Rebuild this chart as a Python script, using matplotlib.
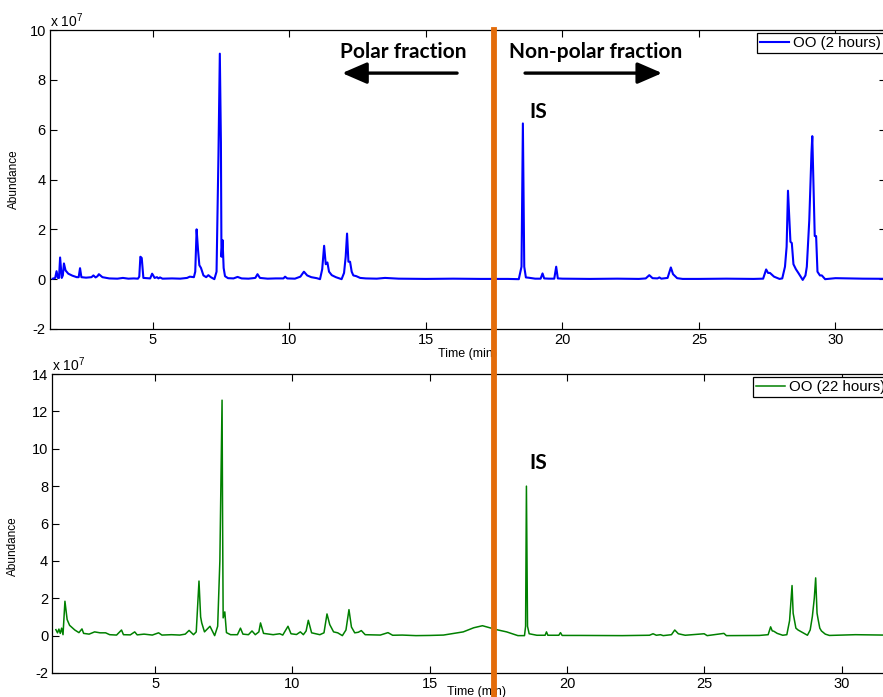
import matplotlib
matplotlib.use("Agg")
import matplotlib.pyplot as plt
import matplotlib.transforms as mtransforms
from matplotlib.lines import Line2D

plt.rcParams['font.family'] = ['Liberation Sans', 'DejaVu Sans']
plt.rcParams['mathtext.fontset'] = 'custom'
plt.rcParams['mathtext.rm'] = 'Liberation Sans'
plt.rcParams['axes.unicode_minus'] = False

# chromatogram, 2 hours (abundance in units of 1e7)
time_2h = [1.33, 1.42, 1.47, 1.52, 1.56, 1.60, 1.66, 1.70, 1.74, 1.80, 1.90, 2.05,
           2.21, 2.28, 2.33, 2.38, 2.55, 2.75, 2.82, 2.90, 2.97, 3.02, 3.15, 3.4,
           3.7, 3.9, 4.1, 4.3, 4.45, 4.50, 4.54, 4.59, 4.65, 4.90, 4.97, 5.01,
           5.06, 5.15, 5.20, 5.26, 5.35, 5.7, 6.0, 6.25, 6.35, 6.50, 6.55, 6.60,
           6.65, 6.70, 6.76, 6.85, 6.95, 7.03, 7.12, 7.25, 7.33, 7.40, 7.45, 7.49,
           7.51, 7.55, 7.59, 7.64, 7.75, 7.95, 8.10, 8.25, 8.5, 8.75, 8.83, 8.92,
           9.2, 9.5, 9.78, 9.84, 9.92, 10.2, 10.40, 10.53, 10.65, 10.80, 11.00, 11.12,
           11.20, 11.27, 11.33, 11.39, 11.45, 11.55, 11.70, 11.91, 12.00, 12.06, 12.11, 12.16,
           12.22, 12.28, 12.34, 12.45, 12.59, 12.8, 13.2, 13.5, 14.0, 15.0, 16.0, 17.0,
           18.0, 18.40, 18.50, 18.55, 18.60, 18.66, 18.75, 19.0, 19.20, 19.27, 19.33, 19.5,
           19.70, 19.77, 19.83, 20.0, 21.0, 22.0, 22.8, 23.05, 23.18, 23.30, 23.48, 23.55,
           23.62, 23.85, 23.97, 24.05, 24.2, 24.4, 25.0, 26.0, 27.0, 27.35, 27.46, 27.53,
           27.60, 27.75, 27.95, 28.05, 28.15, 28.21, 28.26, 28.31, 28.35, 28.40, 28.46, 28.55,
           28.64, 28.80, 28.90, 28.95, 29.04, 29.12, 29.15, 29.21, 29.24, 29.29, 29.34, 29.43,
           29.50, 29.62, 30.0, 31.0, 32.5]
abund_2h = [0.02, 0.05, 0.32, 0.05, 0.05, 0.87, 0.05, 0.15, 0.63, 0.35, 0.22, 0.14,
            0.08, 0.08, 0.44, 0.08, 0.06, 0.08, 0.15, 0.07, 0.12, 0.20, 0.08, 0.03,
            0.02, 0.05, 0.02, 0.03, 0.02, 0.10, 0.90, 0.85, 0.05, 0.03, 0.22, 0.15,
            0.05, 0.08, 0.03, 0.07, 0.02, 0.03, 0.02, 0.05, 0.10, 0.08, 0.30, 2.00,
            1.20, 0.56, 0.45, 0.15, 0.08, 0.16, 0.08, 0.00, 0.30, 5.00, 9.05, 5.50,
            0.90, 1.57, 0.45, 0.12, 0.04, 0.03, 0.09, 0.03, 0.02, 0.05, 0.20, 0.05,
            0.02, 0.03, 0.03, 0.10, 0.03, 0.02, 0.10, 0.30, 0.15, 0.08, 0.04, 0.00,
            0.40, 1.34, 0.60, 0.67, 0.30, 0.16, 0.08, 0.00, 0.25, 0.90, 1.83, 0.70,
            0.70, 0.30, 0.15, 0.12, 0.05, 0.03, 0.02, 0.05, 0.02, 0.01, 0.02, 0.01,
            0.01, 0.00, 0.50, 6.25, 0.50, 0.07, 0.06, 0.02, 0.02, 0.23, 0.03, 0.02,
            0.02, 0.50, 0.03, 0.02, 0.01, 0.02, 0.01, 0.03, 0.16, 0.04, 0.03, 0.07,
            0.02, 0.05, 0.47, 0.20, 0.04, 0.01, 0.01, 0.02, 0.01, 0.02, 0.39, 0.25,
            0.25, 0.10, 0.01, 0.03, 0.50, 1.30, 3.55, 2.37, 1.50, 1.45, 0.60, 0.40,
            0.25, -0.03, 0.15, 0.50, 2.37, 5.06, 5.74, 3.00, 1.73, 1.73, 0.30, 0.15,
            0.15, 0.00, 0.04, 0.02, 0.01]

# chromatogram, 22 hours
time_22h = [1.39, 1.45, 1.50, 1.55, 1.60, 1.65, 1.72, 1.80, 1.89, 2.08, 2.23, 2.28,
            2.34, 2.40, 2.6, 2.80, 3.0, 3.2, 3.35, 3.6, 3.78, 3.85, 4.1, 4.26,
            4.35, 4.6, 4.9, 5.13, 5.25, 5.6, 5.9, 6.1, 6.24, 6.40, 6.50, 6.60,
            6.66, 6.70, 6.80, 7.0, 7.17, 7.28, 7.36, 7.44, 7.46, 7.48, 7.54, 7.60,
            7.75, 8.0, 8.11, 8.2, 8.40, 8.53, 8.65, 8.78, 8.84, 8.95, 9.3, 9.54,
            9.65, 9.84, 9.95, 10.15, 10.29, 10.40, 10.50, 10.58, 10.70, 11.0, 11.15, 11.26,
            11.36, 11.50, 11.65, 11.82, 11.95, 12.06, 12.15, 12.27, 12.40, 12.51, 12.65, 13.2,
            13.48, 13.65, 14.0, 14.5, 15.0, 15.5, 16.22, 16.6, 16.92, 17.43, 17.8, 18.21,
            18.45, 18.49, 18.52, 18.56, 18.62, 18.9, 19.20, 19.25, 19.30, 19.70, 19.76, 19.82,
            20.5, 22.0, 23.0, 23.13, 23.25, 23.40, 23.50, 23.80, 23.92, 24.05, 24.3, 24.99,
            25.1, 25.71, 25.8, 27.0, 27.32, 27.41, 27.47, 27.52, 27.65, 27.85, 28.0, 28.10,
            28.19, 28.23, 28.26, 28.33, 28.41, 28.65, 28.75, 28.85, 28.93, 29.0, 29.05, 29.10,
            29.14, 29.20, 29.26, 29.40, 29.55, 30.5, 32.5]
abund_22h = [0.32, 0.15, 0.35, 0.12, 0.40, 0.05, 1.84, 0.86, 0.55, 0.30, 0.16, 0.25,
             0.36, 0.12, 0.08, 0.20, 0.15, 0.15, 0.05, 0.03, 0.30, 0.05, 0.04, 0.20,
             0.04, 0.08, 0.03, 0.15, 0.03, 0.05, 0.03, 0.08, 0.28, 0.05, 0.20, 2.92,
             1.00, 0.68, 0.20, 0.50, 0.00, 0.50, 4.00, 12.60, 6.00, 0.95, 1.27, 0.16,
             0.05, 0.05, 0.40, 0.08, 0.05, 0.25, 0.05, 0.20, 0.68, 0.12, 0.05, 0.10,
             0.03, 0.50, 0.10, 0.06, 0.20, 0.05, 0.25, 0.82, 0.15, 0.05, 0.15, 1.16,
             0.59, 0.20, 0.15, 0.00, 0.30, 1.39, 0.46, 0.15, 0.18, 0.27, 0.05, 0.03,
             0.16, 0.02, 0.03, 0.00, 0.01, 0.03, 0.20, 0.42, 0.53, 0.32, 0.20, 0.00,
             0.00, 0.50, 8.00, 0.50, 0.10, 0.02, 0.02, 0.20, 0.02, 0.02, 0.16, 0.01,
             0.01, 0.00, 0.02, 0.10, 0.02, 0.05, 0.00, 0.05, 0.30, 0.10, 0.02, 0.10,
             0.00, 0.12, 0.00, 0.01, 0.05, 0.47, 0.25, 0.24, 0.12, 0.02, 0.05, 0.80,
             2.68, 1.20, 0.95, 0.40, 0.30, 0.10, 0.02, 0.30, 1.03, 2.00, 3.09, 1.20,
             0.86, 0.40, 0.25, 0.08, 0.01, 0.05, 0.01]

labels = ['OO (2 hours)', 'OO (22 hours)']
colors = ['#0000ff', '#008000']
yticks_2h = [-2, 0, 2, 4, 6, 8, 10]
yticks_22h = [-2, 0, 2, 4, 6, 8, 10, 12, 14]
xticks = [5, 10, 15, 20, 25, 30]
split_time = 17.5
is_2h = 6.25
is_22h = 8.0

W, H = 883, 697
fig = plt.figure(figsize=(W / 100, H / 100), dpi=100)

def px_axes(left, top, right, bottom):
    return fig.add_axes([left / W, 1 - bottom / H, (right - left) / W, (bottom - top) / H])

ax1 = px_axes(50, 30, 886, 329)
ax2 = px_axes(52.3, 374, 900, 673)

panels = [
    (ax1, time_2h, abund_2h, labels[0], colors[0], 1.5, (1.23, 31.85), yticks_2h, 757, 33),
    (ax2, time_22h, abund_22h, labels[1], colors[1], 1.1, (1.26, 32.12), yticks_22h, 753, 377),
]
for ax, t, a, lab, col, lw, xl, yt, lx, ly in panels:
    ax.plot(t, a, color=col, lw=lw, label=lab)
    ax.set_xlim(*xl)
    ax.set_ylim(yt[0], yt[-1])
    ax.set_xticks(xticks)
    ax.set_yticks(yt)
    ax.tick_params(direction='in', length=5, width=0.8, top=True, right=True,
                   labelsize=10.5, pad=3)
    for s in ax.spines.values():
        s.set_linewidth(0.9)
    ax.set_ylabel('Abundance', fontsize=8.5)
    ax.set_xlabel('Time (min)', fontsize=9)
    ax.text(0.0, 1.0, r'x 10$^{7}$', transform=ax.transAxes, fontsize=10,
            ha='left', va='bottom')
    leg = ax.legend(loc='upper left', bbox_to_anchor=(lx / W, 1 - ly / H),
                    bbox_transform=fig.transFigure, fontsize=10.8, frameon=True,
                    fancybox=False, framealpha=1, edgecolor='black',
                    handlelength=1.9, handletextpad=0.3, borderpad=0.2,
                    borderaxespad=0)
    leg.get_frame().set_linewidth(0.9)

ax1.yaxis.set_label_coords(-30 / 836, 0.5)
ax2.yaxis.set_label_coords(-33 / 847.7, 0.425)
ax1.xaxis.set_label_coords(0.5, -19 / 299)
ax2.xaxis.set_label_coords(0.5, -13 / 299)

# fraction annotations
bold = dict(family=['Lato', 'DejaVu Sans'], fontweight='bold', fontsize=15)
ax1.text(14.16, 9.12, 'Polar fraction', ha='center', va='center', **bold)
ax1.text(21.23, 9.12, 'Non-polar fraction', ha='center', va='center', **bold)
arrow = dict(arrowstyle='-|>,head_length=1.5,head_width=0.65', mutation_scale=10,
             color='black', lw=2.4, shrinkA=0, shrinkB=0)
ax1.annotate('', xy=(11.93, 8.27), xytext=(16.14, 8.27), arrowprops=arrow)
ax1.annotate('', xy=(23.65, 8.27), xytext=(18.63, 8.27), arrowprops=arrow)
ax1.text(19.10, is_2h + 0.46, 'IS', ha='center', va='center', **bold)
ax2.text(18.95, is_22h + 1.26, 'IS', ha='center', va='center', **bold)

# split line between the fractions
trans = mtransforms.blended_transform_factory(ax1.transData, fig.transFigure)
fig.add_artist(Line2D([split_time, split_time], [1 - 30 / H, 0], transform=trans,
                      color='#e36c0a', lw=4.2, zorder=10))

fig.savefig('out.png', dpi=100)
